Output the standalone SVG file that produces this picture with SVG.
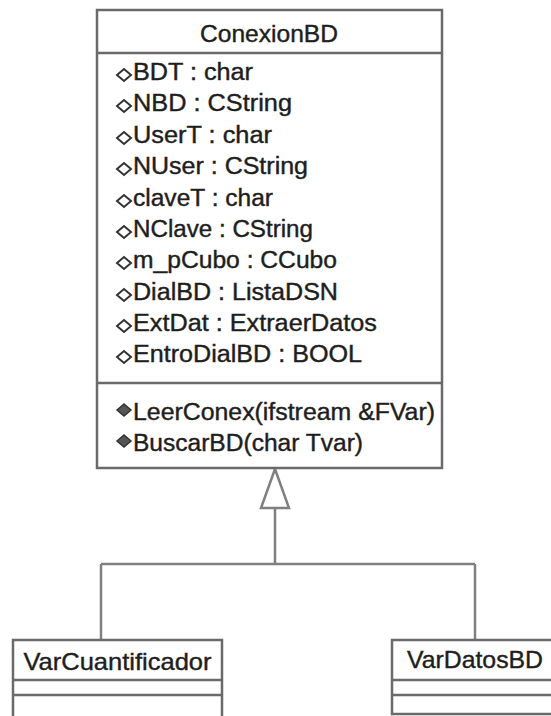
<svg xmlns="http://www.w3.org/2000/svg" width="551" height="716" viewBox="0 0 551 716">
<style>
.box{fill:#fff;stroke:#6a6a6a;stroke-width:2.5}
.sep{stroke:#6a6a6a;stroke-width:2.5}
.t{font-family:"Liberation Sans",Arial,sans-serif;font-size:23px;fill:#1e1e1e;stroke:#1e1e1e;stroke-width:0.4}
.tt{font-family:"Liberation Sans",Arial,sans-serif;font-size:24px;fill:#1e1e1e;stroke:#1e1e1e;stroke-width:0.4}
.conn{stroke:#808080;stroke-width:2.5;fill:none}
.att{fill:#fff;stroke:#333;stroke-width:2}
.op{fill:#555;stroke:#333;stroke-width:1.5}
</style>
<defs>
<path id="dia" d="M-7,0 L0,-6 L7,0 L0,6 Z"/>
</defs>
<g id="connectors">
<polygon class="conn" points="275,469 261,508 289,508" fill="#fff"/>
<line class="conn" x1="275" y1="508" x2="275" y2="564"/>
<line class="conn" x1="101" y1="564" x2="475" y2="564"/>
<line class="conn" x1="101" y1="564" x2="101" y2="640"/>
<line class="conn" x1="475" y1="564" x2="475" y2="640"/>
</g>
<g id="ConexionBD">
<rect class="box" x="97" y="10" width="345" height="458"/>
<line class="sep" x1="97" y1="53" x2="442" y2="53"/>
<line class="sep" x1="97" y1="383" x2="442" y2="383"/>
<text class="tt" x="269" y="42" text-anchor="middle" textLength="138" lengthAdjust="spacingAndGlyphs">ConexionBD</text>
<g class="att">
<use href="#dia" x="124" y="75"/>
<use href="#dia" x="124" y="106"/>
<use href="#dia" x="124" y="138"/>
<use href="#dia" x="124" y="169"/>
<use href="#dia" x="124" y="201"/>
<use href="#dia" x="124" y="232"/>
<use href="#dia" x="124" y="263"/>
<use href="#dia" x="124" y="295"/>
<use href="#dia" x="124" y="326"/>
<use href="#dia" x="124" y="357"/>
</g>
<text class="t" x="133" y="80" textLength="120" lengthAdjust="spacingAndGlyphs">BDT : char</text>
<text class="t" x="133" y="111" textLength="159" lengthAdjust="spacingAndGlyphs">NBD : CString</text>
<text class="t" x="133" y="143" textLength="139" lengthAdjust="spacingAndGlyphs">UserT : char</text>
<text class="t" x="133" y="174" textLength="175" lengthAdjust="spacingAndGlyphs">NUser : CString</text>
<text class="t" x="133" y="206" textLength="140" lengthAdjust="spacingAndGlyphs">claveT : char</text>
<text class="t" x="133" y="237" textLength="180" lengthAdjust="spacingAndGlyphs">NClave : CString</text>
<text class="t" x="133" y="268" textLength="204" lengthAdjust="spacingAndGlyphs">m_pCubo : CCubo</text>
<text class="t" x="133" y="300" textLength="205" lengthAdjust="spacingAndGlyphs">DialBD : ListaDSN</text>
<text class="t" x="133" y="331" textLength="244" lengthAdjust="spacingAndGlyphs">ExtDat : ExtraerDatos</text>
<text class="t" x="133" y="362" textLength="229" lengthAdjust="spacingAndGlyphs">EntroDialBD : BOOL</text>
<g class="op">
<use href="#dia" x="124" y="410"/>
<use href="#dia" x="124" y="441"/>
</g>
<text class="t" x="133" y="420" textLength="302" lengthAdjust="spacingAndGlyphs">LeerConex(ifstream &amp;FVar)</text>
<text class="t" x="133" y="451" textLength="230" lengthAdjust="spacingAndGlyphs">BuscarBD(char Tvar)</text>
</g>
<g id="VarCuantificador">
<rect class="box" x="13" y="640" width="209" height="90"/>
<line class="sep" x1="13" y1="680" x2="222" y2="680"/>
<line class="sep" x1="13" y1="695" x2="222" y2="695"/>
<text class="tt" x="117.5" y="670" text-anchor="middle" textLength="188" lengthAdjust="spacingAndGlyphs">VarCuantificador</text>
</g>
<g id="VarDatosBD">
<rect class="box" x="392" y="640" width="180" height="74"/>
<line class="sep" x1="392" y1="680" x2="572" y2="680"/>
<line class="sep" x1="392" y1="695" x2="572" y2="695"/>
<text class="tt" x="407" y="668" textLength="136" lengthAdjust="spacingAndGlyphs">VarDatosBD</text>
</g>
</svg>
